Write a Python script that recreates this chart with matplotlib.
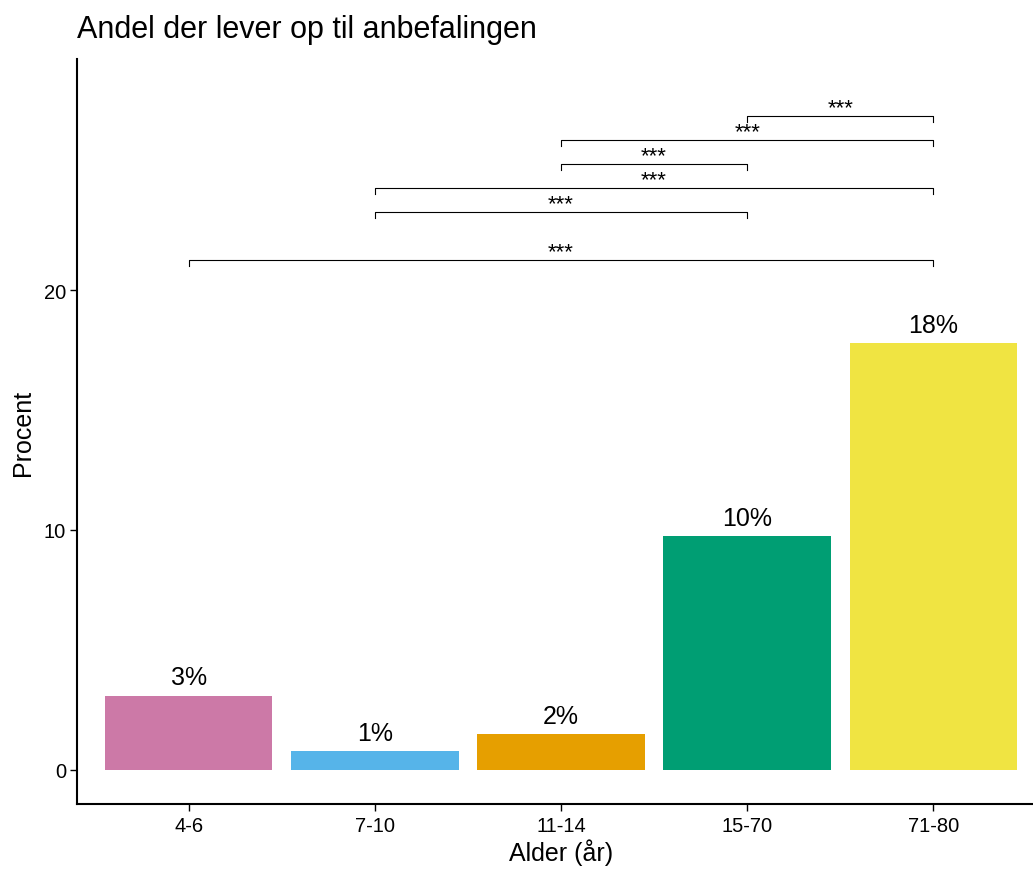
import matplotlib.pyplot as plt

plt.rcParams['font.family'] = ['Liberation Sans', 'DejaVu Sans']

# data
groups = ["4-6", "7-10", "11-14", "15-70", "71-80"]
values = [3.1, 0.8, 1.5, 9.75, 17.8]
labels = ["3%", "1%", "2%", "10%", "18%"]
colors = ["#CC79A7", "#56B4E9", "#E69F00", "#009E73", "#F0E442"]

# significance brackets: (start group, end group, height)
pairs = [(0, 4, 21.25), (1, 3, 23.25), (1, 4, 24.25),
         (2, 3, 25.25), (2, 4, 26.25), (3, 4, 27.25)]
stars = ["***"] * len(pairs)

fig = plt.figure(figsize=(10.33, 8.7), dpi=100)
ax = fig.add_axes([77 / 1033, 1 - 805 / 870, 968 / 1033, 745 / 870])

x = list(range(len(groups)))
ax.bar(x, values, width=0.9, color=colors)

for xi, v, lab in zip(x, values, labels):
    ax.annotate(lab, (xi, v), xytext=(0, 8), textcoords="offset points",
                ha="center", va="baseline", fontsize=18)

tick = 0.25
for (a, b, h), s in zip(pairs, stars):
    ax.plot([a, a, b, b], [h - tick, h, h, h - tick], color="black", lw=0.8)
    ax.text((a + b) / 2, h + 0.12, s, ha="center", va="baseline", fontsize=16)

ax.set_xlim(-0.6, 4.6)
ax.set_ylim(-1.42, 29.63)
ax.set_xticks(x)
ax.set_xticklabels(groups)
ax.set_yticks([0, 10, 20])
ax.tick_params(labelsize=14.5, length=5, width=1)
ax.tick_params(axis="x", pad=4)
ax.tick_params(axis="y", pad=3)
ax.spines['top'].set_visible(False)
ax.spines['right'].set_visible(False)
ax.spines['left'].set_linewidth(1.5)
ax.spines['bottom'].set_linewidth(1.5)

ax.set_xlabel("Alder (år)", fontsize=18, labelpad=2)
ax.set_ylabel("Procent", fontsize=18, labelpad=6)
ax.set_title("Andel der lever op til anbefalingen", fontsize=22, loc="left", pad=16)

fig.savefig("out.png", dpi=100)
